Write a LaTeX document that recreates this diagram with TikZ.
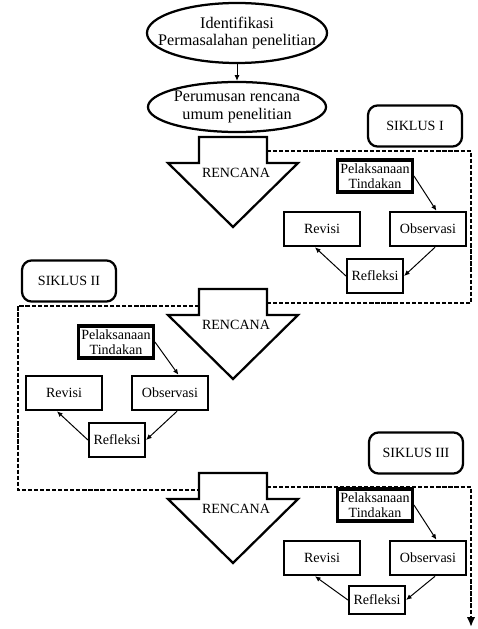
\documentclass[tikz,border=0pt]{standalone}
\usepackage{fontspec}
\setmainfont{Liberation Serif}
\usepackage{tikz}
\usetikzlibrary{arrows.meta,positioning,shapes.geometric}

\tikzset{
  rencana/.pic={
    \draw[line width=1.6pt] (-34,0) -- (34,0) -- (34,26) -- (65,26) -- (0,90)
      -- (-65,26) -- (-34,26) -- cycle;
    \node[font=\fontsize{10}{11}\selectfont] (-lbl) at (3,36) {RENCANA};
    \coordinate (-l) at (-34,17);
    \coordinate (-r) at (34,14);
  }
}

\begin{document}
\begin{tikzpicture}[x=0.025cm,y=-0.025cm,font=\fontsize{10}{10.5}\selectfont,
  oval/.style={draw,ellipse,line width=1.6pt,inner sep=0pt},
  ovtxt/.style={align=center,font=\fontsize{11.5}{12.5}\selectfont,inner sep=0pt},
  siklus/.style={draw,rounded corners=7pt,line width=1.6pt,minimum width=2.35cm,
                 minimum height=1.03cm},
  box/.style={draw,line width=1.5pt,minimum width=1.9cm,minimum height=0.86cm,inner sep=1pt},
  refl/.style={box,minimum width=1.4cm},
  act/.style={box,line width=2.2pt,align=center,minimum width=1.87cm,minimum height=0.8cm},
  conn/.style={line width=0.7pt,-{Latex[length=4pt,width=3.5pt]}},
  loopline/.style={line width=1.8pt,dash pattern=on 3pt off 1.3pt}]
\useasboundingbox (0,0) rectangle (478,629);

% ---------------- top: identification and general plan ----------------
\node[oval,minimum width=4.5cm,minimum height=1.5cm] (ident) at (237,33) {};
\node[ovtxt] (identtxt) at (ident) {Identifikasi\\Permasalahan penelitian};
\node[oval,minimum width=4.45cm,minimum height=1.25cm] (rumus) at (237,107) {};
\node[ovtxt] (rumustxt) at (rumus) {Perumusan rencana\\umum penelitian};
\draw[conn] (ident) -- (rumus);

% ---------------- siklus I ----------------
\pic (ren1) at (233,137) {rencana};
\node[siklus] (sik1) at (415,126) {SIKLUS I};
\node[act] (pel1) at (375,176) {Pelaksanaan\\Tindakan};
\node[box] (obs1) at (428,229) {Observasi};
\node[box] (rev1) at (322,229) {Revisi};
\node[refl] (ref1) at (375,276) {Refleksi};
\draw[conn] (pel1.east) -- ([xshift=6pt]obs1.north);
\draw[conn] ([xshift=5pt]obs1.south) -- (ref1.east);
\draw[conn] (ref1.west) -- ([xshift=-5pt]rev1.south);

% ---------------- siklus II ----------------
\pic (ren2) at (233,289) {rencana};
\node[siklus] (sik2) at (69,281) {SIKLUS II};
\node[act] (pel2) at (116,342) {Pelaksanaan\\Tindakan};
\node[box] (obs2) at (170,393) {Observasi};
\node[box] (rev2) at (64,393) {Revisi};
\node[refl] (ref2) at (117,440) {Refleksi};
\draw[conn] (pel2.east) -- ([xshift=6pt]obs2.north);
\draw[conn] ([xshift=5pt]obs2.south) -- (ref2.east);
\draw[conn] (ref2.west) -- ([xshift=-5pt]rev2.south);

% ---------------- siklus III ----------------
\pic (ren3) at (233,473) {rencana};
\node[siklus] (sik3) at (416,453) {SIKLUS III};
\node[act] (pel3) at (375,505) {Pelaksanaan\\Tindakan};
\node[box] (obs3) at (428,558) {Observasi};
\node[box] (rev3) at (322,558) {Revisi};
\node[refl,minimum height=0.68cm] (ref3) at (377,600) {Refleksi};
\draw[conn] (pel3.east) -- ([xshift=6pt]obs3.north);
\draw[conn] ([xshift=5pt]obs3.south) -- (ref3.east);
\draw[conn] (ref3.west) -- ([xshift=-5pt]rev3.south);

% ---------------- dashed cycle boundaries ----------------
\coordinate (east1) at (471,230);
\coordinate (west2) at (18,400);
\coordinate (east3) at (471,627);
\draw[loopline] (ren1-r) -| (east1) |- (ren2-r);
\draw[loopline] (ren2-l) -| (west2) |- (ren3-l);
\draw[loopline,-{Latex[length=7pt,width=6pt]}] (ren3-r) -| (east3);

\end{tikzpicture}
\end{document}
